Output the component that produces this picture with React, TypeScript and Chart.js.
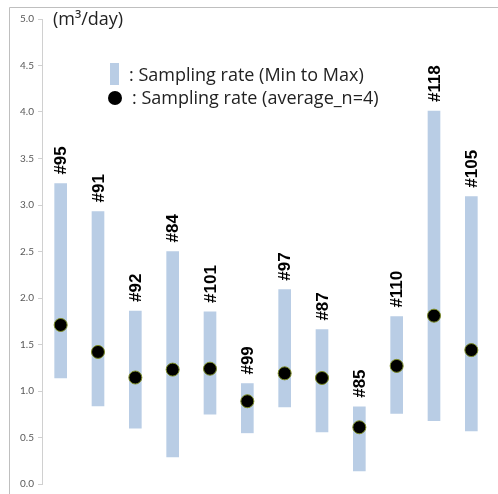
import React, { useEffect, useRef } from "react";
import { Chart, registerables } from "chart.js";

Chart.register(...registerables);

const sites = ["#95", "#91", "#92", "#84", "#101", "#99", "#97", "#87", "#85", "#110", "#118", "#105"];
const minRate = [1.14, 0.84, 0.60, 0.29, 0.75, 0.55, 0.83, 0.56, 0.14, 0.76, 0.68, 0.57];
const maxRate = [3.23, 2.93, 1.86, 2.50, 1.85, 1.08, 2.09, 1.66, 0.83, 1.80, 4.01, 3.09];
const avgRate = [1.71, 1.42, 1.145, 1.23, 1.24, 0.89, 1.19, 1.14, 0.61, 1.27, 1.81, 1.44];
const unitLabel = "(m³/day)";
const legendRange = ": Sampling rate (Min to Max)";
const legendAvg = ": Sampling rate (average_n=4)";

const BAR_COLOR = "#b9cde5";

const decorPlugin = {
  id: "decor",
  beforeDraw(chart: any) {
    const ctx = chart.ctx;
    ctx.save();
    ctx.fillStyle = "#ffffff";
    ctx.fillRect(0, 0, chart.width, chart.height);
    ctx.strokeStyle = "#bfbfbf";
    ctx.lineWidth = 1;
    ctx.beginPath();
    ctx.moveTo(9.5, chart.height);
    ctx.lineTo(9.5, 7.5);
    ctx.lineTo(chart.width, 7.5);
    ctx.stroke();
    ctx.restore();
  },
  afterDraw(chart: any) {
    const ctx = chart.ctx;
    const meta = chart.getDatasetMeta(1);
    const y = chart.scales.y;
    ctx.save();
    // bar labels
    ctx.fillStyle = "#000000";
    ctx.font = "bold 17px 'Liberation Sans', Arial, sans-serif";
    ctx.textAlign = "left";
    ctx.textBaseline = "middle";
    meta.data.forEach((el: any, i: number) => {
      const top = y.getPixelForValue(maxRate[i]);
      ctx.save();
      ctx.translate(el.x + 1, top - 9);
      ctx.rotate(-Math.PI / 2);
      ctx.fillText(sites[i], 0, 0);
      ctx.restore();
    });
    // unit label
    ctx.font = "18px 'Open Sans', Lato, sans-serif";
    ctx.fillStyle = "#222222";
    ctx.textBaseline = "middle";
    ctx.fillText(unitLabel, 53, 20);
    // legend
    ctx.fillStyle = BAR_COLOR;
    ctx.fillRect(110, 63, 9, 22);
    ctx.fillStyle = "#000000";
    ctx.beginPath();
    ctx.arc(115, 98, 7, 0, Math.PI * 2);
    ctx.fill();
    ctx.fillStyle = "#222222";
    ctx.font = "18px 'Open Sans', Lato, sans-serif";
    ctx.fillText(legendRange, 129, 76);
    ctx.fillText(legendAvg, 132, 99);
    ctx.restore();
  },
};

export default function App() {
  const ref = useRef<HTMLCanvasElement | null>(null);
  useEffect(() => {
    document.body.style.margin = "0";
    const chart = new Chart(ref.current as HTMLCanvasElement, {
      type: "bar",
      data: {
        labels: sites,
        datasets: [
          {
            type: "line",
            data: avgRate,
            showLine: false,
            pointRadius: 6.5,
            pointBackgroundColor: "#000000",
            pointBorderColor: "#7d8c25",
            pointBorderWidth: 1,
            order: 0,
          } as any,
          {
            type: "bar",
            data: sites.map((_, i) => [minRate[i], maxRate[i]]),
            backgroundColor: BAR_COLOR,
            barThickness: 12,
            order: 1,
          } as any,
        ],
      },
      options: {
        animation: false,
        responsive: false,
        events: [],
        layout: { padding: { left: 8, right: 8, top: 19, bottom: 9 } },
        plugins: { legend: { display: false }, tooltip: { enabled: false }, title: { display: false } },
        scales: {
          x: {
            type: "category",
            offset: true,
            display: false,
            grid: { display: false },
          },
          y: {
            min: 0,
            max: 5,
            afterFit: (s: any) => {
              s.width = 34;
            },
            ticks: {
              stepSize: 0.5,
              callback: (v: any) => Number(v).toFixed(1),
              color: "#595959",
              font: { family: "Lato, 'Open Sans', sans-serif", size: 10 },
              padding: 4,
            },
            grid: {
              drawOnChartArea: false,
              drawTicks: true,
              tickLength: 4,
              color: "#d0d0d0",
            },
            border: { color: "#d0d0d0", width: 1 },
          },
        },
      },
      plugins: [decorPlugin],
    });
    return () => chart.destroy();
  }, []);
  return (
    <div style={{ width: 498, height: 494 }}>
      <canvas ref={ref} width={498} height={494} style={{ display: "block" }} />
    </div>
  );
}
